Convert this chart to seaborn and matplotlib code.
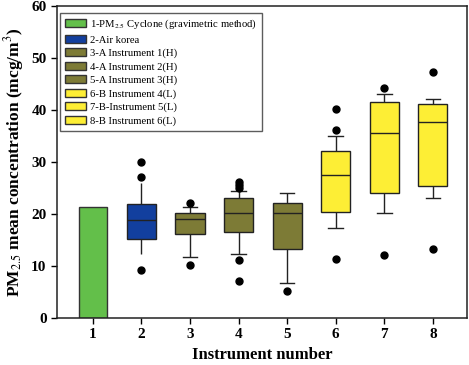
import numpy as np
import pandas as pd
import seaborn as sns
import matplotlib.pyplot as plt
from matplotlib.patches import Patch

# instrument categories
instruments = ['1', '2', '3', '4', '5', '6', '7', '8']

# instrument 1 is a single gravimetric value (bar)
bar_value = 21.3

# box statistics (instruments 2..8)
box_ids = ['2', '3', '4', '5', '6', '7', '8']
whisk_lo = [12.3, 11.7, 12.3, 6.7, 17.3, 20.2, 23.1]
q1 = [15.2, 16.2, 16.5, 13.3, 20.4, 24.0, 25.4]
median = [18.8, 19.0, 20.2, 20.2, 27.5, 35.5, 37.6]
q3 = [21.9, 20.2, 23.1, 22.1, 32.0, 41.5, 41.1]
whisk_hi = [26.0, 21.3, 24.4, 24.0, 35.0, 43.0, 42.0]
out_lo = [[9.2], [10.2], [7.1, 11.2], [5.2], [11.3], [12.1], [13.3]]
out_hi = [[27.1, 30.0], [22.1], [25.0, 25.6, 26.2], [], [36.2, 40.2], [44.2], [47.2]]

legend_labels = ['1-PM$_{2.5}$ Cyclone (gravimetric method)', '2-Air korea',
                 '3-A Instrument 1(H)', '4-A Instrument 2(H)', '5-A Instrument 3(H)',
                 '6-B Instrument 4(L)', '7-B-Instrument 5(L)', '8-B Instrument 6(L)']

green = '#63bf4a'
blue = '#123f9e'
olive = '#7d7b36'
yellow = '#fdee35'
colors = [green, blue, olive, olive, olive, yellow, yellow, yellow]
palette = dict(zip(instruments, colors))


def build(lo, wl, a, m, b, wh, hi):
    # 41 sorted values so that the 10/25/50/75/90 percentiles land on the read stats
    vals = list(lo) + [wl] * (10 - len(lo)) + [a] * 10 + [m] * 10 + [b]
    vals += [wh] * (10 - len(hi)) + list(hi)
    return vals


rows = []
for i, k in enumerate(box_ids):
    for v in build(out_lo[i], whisk_lo[i], q1[i], median[i], q3[i], whisk_hi[i], out_hi[i]):
        rows.append({'Instrument': k, 'Concentration': v})
df = pd.DataFrame(rows)

plt.rcParams['font.family'] = ['Liberation Serif', 'DejaVu Serif']
plt.rcParams['mathtext.fontset'] = 'stix'

fig = plt.figure(figsize=(4.69, 3.65), dpi=100)
ax = fig.add_axes([0.1215, 0.129, 0.874, 0.855])

sns.boxplot(data=df, x='Instrument', y='Concentration', hue='Instrument', order=instruments,
            hue_order=instruments, palette=palette, saturation=1, whis=(10, 90), width=0.6,
            legend=False, linecolor='#222222', linewidth=1.0, fliersize=5,
            flierprops={'marker': 'o', 'markerfacecolor': 'black', 'markeredgecolor': 'black'},
            ax=ax)
sns.barplot(x=['1'], y=[bar_value], order=instruments, color=green, width=0.56,
            edgecolor='#333333', linewidth=1.0, errorbar=None, saturation=1, ax=ax)

# the Air korea box is drawn without whisker caps
for line in ax.lines:
    xd = np.asarray(line.get_xdata(), dtype=float)
    if len(xd) == 2 and xd[0] != xd[1] and abs(xd.mean() - 1) < 0.01 and abs(xd[1] - xd[0]) < 0.4:
        line.set_visible(False)

ax.set_xlim(-0.74, 7.7)
ax.set_ylim(0, 60)
ax.set_yticks(range(0, 61, 10))
ax.tick_params(direction='out', length=4, width=1)
for lab in ax.get_xticklabels() + ax.get_yticklabels():
    lab.set_fontweight('bold')
    lab.set_fontsize(11)
for s in ax.spines.values():
    s.set_linewidth(1.1)
    s.set_color('#222222')

ax.set_xlabel('Instrument number', fontsize=12, fontweight='bold')
ax.set_ylabel('PM$_{2.5}$ mean concentration (mcg/m$^3$)', fontsize=12.5, fontweight='bold')

handles = [Patch(facecolor=c, edgecolor='#333333') for c in colors]
leg = ax.legend(handles, legend_labels, loc='upper left', bbox_to_anchor=(0.007, 0.977),
                fontsize=7.7, frameon=True, fancybox=False, edgecolor='#333333',
                handlelength=2.0, handleheight=0.75, labelspacing=0.34, borderpad=0.45,
                handletextpad=0.4, borderaxespad=0)
leg.get_frame().set_linewidth(1.0)

plt.savefig('out.png', dpi=100)
